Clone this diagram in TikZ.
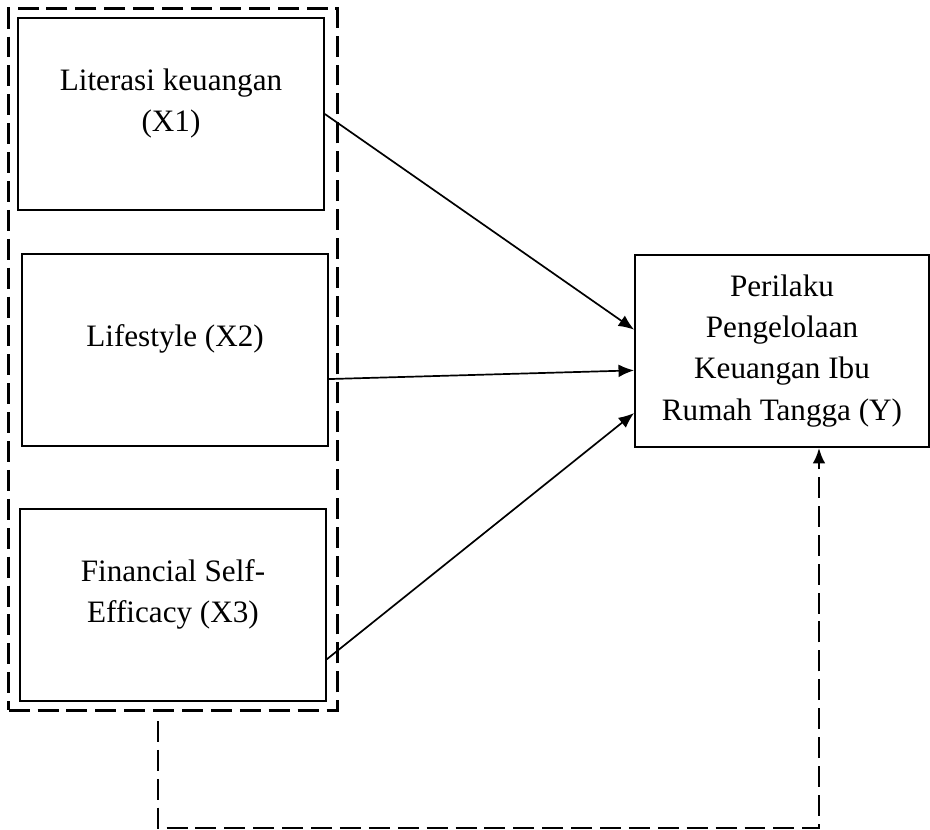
\documentclass[tikz,border=0pt]{standalone}
\usepackage{fontspec}
\setmainfont{Liberation Serif}
\usepackage{tikz}
\usetikzlibrary{arrows.meta, fit, calc}

\begin{document}
\begin{tikzpicture}[x=0.353pt, y=-0.353pt,
        varbox/.style={rectangle, draw, line width=0.6pt, align=center, minimum width=108pt, minimum height=67.8pt, font=\fontsize{11}{14.5}\selectfont, text depth=10pt},
        groupbox/.style={rectangle, draw, line width=0.9pt, dash pattern=on 7.4pt off 2.8pt, inner sep=3pt},
        link/.style={-{Latex[length=5.5pt, width=4.5pt]}, line width=0.6pt}]
        \useasboundingbox (0,0) rectangle (930,830);

        \node (x1) at (171,114)[varbox] {Literasi keuangan\\(X1)};
        \node (x2) at (175,350)[varbox] {Lifestyle (X2)};
        \node (x3) at (173,605)[varbox] {Financial Self-\\Efficacy (X3)};
        \node (grp)[groupbox, fit=(x1)(x2)(x3)] {};

        \node (y) at (782,351)[varbox, minimum width=103.8pt, text depth=] {Perilaku\\Pengelolaan\\Keuangan Ibu\\Rumah Tangga (Y)};

        \draw[link] (x1.east) -- ($(y.north west)!0.39!(y.south west)$);

        \draw[link] ($(x2.north east)!0.65!(x2.south east)$) -- ($(y.north west)!0.6!(y.south west)$);

        \draw[link] ($(x3.north east)!0.78!(x3.south east)$) -- ($(y.north west)!0.82!(y.south west)$);

        \coordinate (fb) at (158,721);
        \coordinate (yb) at (819,828);
        \draw[link, dash pattern=on 7.4pt off 2.8pt, line width=0.9pt] (fb) |- (yb) -- (yb |- y.south);

    \end{tikzpicture}
\end{document}
